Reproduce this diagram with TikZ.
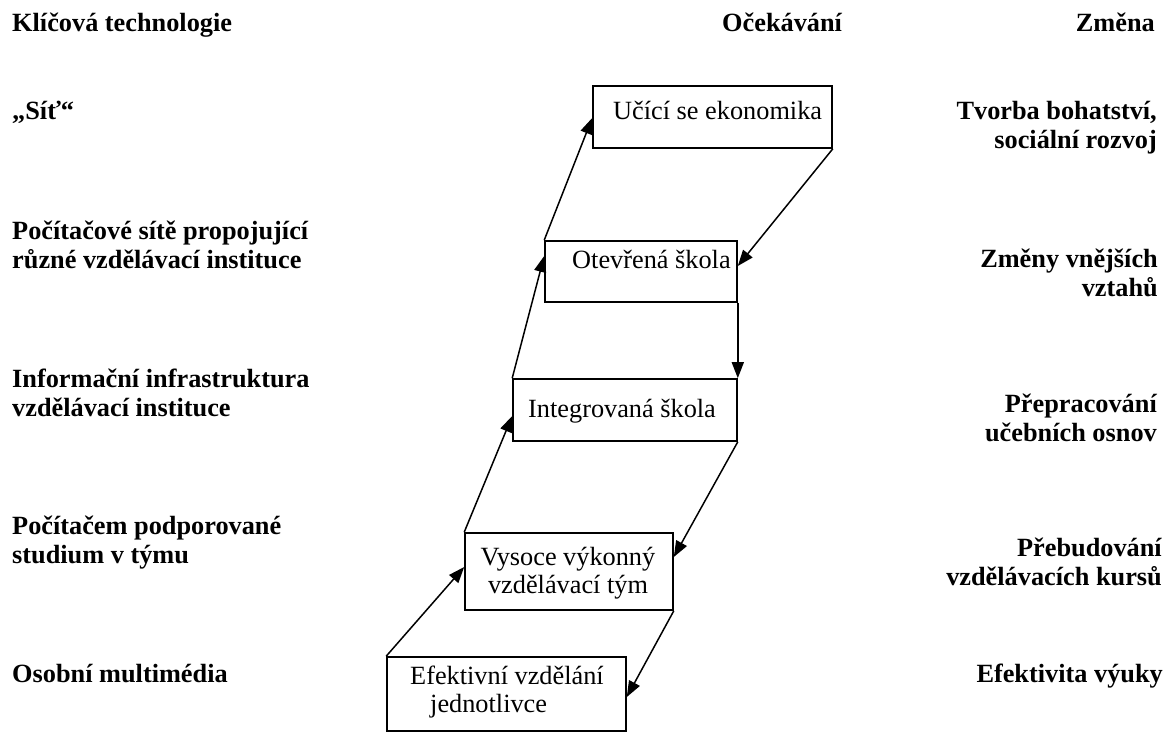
\documentclass[tikz,border=0pt]{standalone}
\usepackage{fontspec}
\setmainfont{Liberation Serif}
\usetikzlibrary{arrows.meta}
\tikzset{stage/.style={draw, line width=1.6pt, inner sep=0pt}}
\tikzset{stagetext/.style={inner sep=0pt, font=\fontsize{26.3}{28}\selectfont}}
\tikzset{lbl/.style={inner sep=0pt, font=\fontsize{26.3}{29}\selectfont\bfseries}}
\tikzset{flow/.style={line width=1.5pt, -{Triangle[length=16pt, width=12pt]}}}

\begin{document}
\begin{tikzpicture}[x=1pt, y=-1pt]
        \useasboundingbox (0,0) rectangle (1168,733);

        \node[lbl, anchor=base west] (tech) at (12, 32) {Klíčová technologie};
        \node[lbl, anchor=base west] (expect) at (722, 32) {Očekávání};
        \node[lbl, anchor=base east] (change) at (1155, 32) {Změna};

        \node[lbl, anchor=base west] (tech1) at (12, 120) {„Síť“};
        \node[lbl, anchor=base west, align=left] (tech2) at (12, 268) {Počítačové sítě propojující\\různé vzdělávací instituce};
        \node[lbl, anchor=base west, align=left] (tech3) at (12, 416) {Informační infrastruktura\\vzdělávací instituce};
        \node[lbl, anchor=base west, align=left] (tech4) at (12, 563) {Počítačem podporované\\studium v týmu};
        \node[lbl, anchor=base west] (tech5) at (12, 682) {Osobní multimédia};

        \node[lbl, anchor=base east, align=right] (change1) at (1157, 149) {Tvorba bohatství,\\sociální rozvoj};
        \node[lbl, anchor=base east, align=right] (change2) at (1158, 296) {Změny vnějších\\vztahů};
        \node[lbl, anchor=base east, align=right] (change3) at (1157, 441) {Přepracování\\učebních osnov};
        \node[lbl, anchor=base east, align=right] (change4) at (1162, 585) {Přebudování\\vzdělávacích kursů};
        \node[lbl, anchor=base east] (change5) at (1163, 682) {Efektivita výuky};

        \node[stage, minimum width=239pt, minimum height=62pt] (econ) at (712.5, 117) {};
        \node[stage, minimum width=192pt, minimum height=61pt] (open) at (641, 271.5) {};
        \node[stage, minimum width=224pt, minimum height=62pt] (integ) at (625, 410) {};
        \node[stage, minimum width=208pt, minimum height=77pt] (team) at (569, 571.5) {};
        \node[stage, minimum width=239pt, minimum height=74pt] (indiv) at (506.5, 694) {};

        \node[stagetext, anchor=base west] (econtext) at (613, 120) {Učící se ekonomika};
        \node[stagetext, anchor=base west] (opentext) at (572, 268) {Otevřená škola};
        \node[stagetext, anchor=base west] (integtext) at (528, 417) {Integrovaná škola};
        \node[stagetext, anchor=base, align=center] (teamtext) at (568, 593) {Vysoce výkonný\\vzdělávací tým};
        \node[stagetext, anchor=base west, align=left] (indivtext) at (410, 712) {Efektivní vzdělání\\\hspace*{20pt}jednotlivce};

        \draw [flow] (indiv.north west) -- ([yshift=4.5pt]team.west);
        \draw [flow] (team.north west) -- ([yshift=-6pt]integ.west);
        \draw [flow] (integ.north west) -- ([yshift=15.5pt]open.west);
        \draw [flow] (open.north west) -- ([yshift=-1pt]econ.west);

        \draw [flow] (econ.south east) -- ([yshift=5.5pt]open.east);
        \draw [flow] (open.south east) -- (integ.north east);
        \draw [flow] (integ.south east) -- ([yshift=14.5pt]team.east);
        \draw [flow] (team.south east) -- ([yshift=-3pt]indiv.east);
    \end{tikzpicture}
\end{document}
